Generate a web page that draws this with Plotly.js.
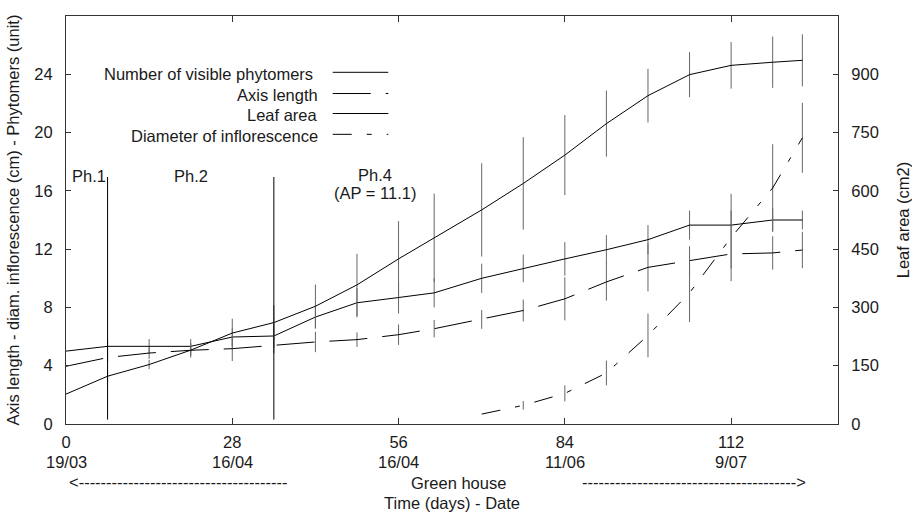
<!DOCTYPE html>
<html>
<head>
<meta charset="utf-8">
<script src="https://cdn.plot.ly/plotly-3.0.1.min.js"></script>
<style>html,body{margin:0;padding:0;background:#fff;}#chart{width:912px;height:512px;}</style>
</head>
<body>
<div id="chart"></div>
<script>
// ---- data ----
const days = [0,7,14,21,28,35,42,49,56,62,70,77,84,91,98,105,112,119,124];
const phytomers    = [5.0,5.33,5.33,5.33,5.97,6.04,7.34,8.32,8.68,9.0,10.0,10.68,11.33,11.96,12.65,13.65,13.65,14.0,14.0];
const phytomersErr = [0,0.5,0.5,0.5,0.6,0.8,0.8,1.0,1.1,1.0,1.0,0.95,1.15,1.0,1.0,1.0,1.0,0.8,0.65];
const axisLength    = [3.96,4.56,4.87,5.06,5.17,5.4,5.63,5.79,6.13,6.54,7.18,7.79,8.59,9.75,10.75,11.2,11.67,11.74,11.94];
const axisLengthErr = [0,0.3,0.4,0.5,0.85,0.55,0.7,0.5,0.7,0.6,0.65,0.75,1.48,1.28,1.65,1.0,1.0,1.15,1.25];
const leafArea    = [77,123,153,190,234,261,303,358,425,479,551,619,692,773,845,899,923,931,936];
const leafAreaErr = [0,15,12,15,37,45,56,80,97,114,120,119,103,85,69,58,60,66,67];
const diamDays    = [70,77,84,91,98,105,112,119,124];
const diameter    = [0.68,1.28,2.1,3.5,6.08,9.0,12.8,16.2,19.64];
const diameterErr = [0,0.3,0.55,0.85,1.5,2.0,3.0,3.0,2.4];

const seriesNames = ["Number of visible phytomers ", "Axis length", "Leaf area", "Diameter of inflorescence"];
const seriesDash  = ["solid", "38px,15px", "solid", "19px,15px,5px,15px"];

const xTickDays  = [0,28,56,84,112];
const xTickDates = ["19/03","16/04","16/04","11/06","9/07"];
const yTickVals  = [0,4,8,12,16,20,24];
const y2TickVals = [0,150,300,450,600,750,900];

const phaseDays  = [7,35];
const phaseRange = [0.3,16.95];
const phaseLabels = [
  {text:"Ph.1", x:3.9, y:17.0},
  {text:"Ph.2", x:21.1, y:17.0},
  {text:"Ph.4", x:52.0, y:17.1},
  {text:"(AP = 11.1)", x:52.0, y:15.85}
];

// ---- styling ----
const FONT = "Liberation Sans, Arial, Helvetica, sans-serif";
const FS = 16.5;
const TXT = "#1a1a1a";
const AX = "#333";
const ERR = {type:"data", visible:true, thickness:1, width:0, color:"#666"};

function errOf(arr){ return Object.assign({}, ERR, {array: arr}); }

const traces = [
  {x: days, y: phytomers, name: seriesNames[0], mode:"lines", yaxis:"y",
   line:{color:"#000", width:1, dash:seriesDash[0]}, error_y: errOf(phytomersErr)},
  {x: days, y: axisLength, name: seriesNames[1], mode:"lines", yaxis:"y",
   line:{color:"#000", width:1, dash:seriesDash[1]}, error_y: errOf(axisLengthErr)},
  {x: days, y: leafArea, name: seriesNames[2], mode:"lines", yaxis:"y2",
   line:{color:"#000", width:1, dash:seriesDash[2]}, error_y: errOf(leafAreaErr)},
  {x: diamDays, y: diameter, name: seriesNames[3], mode:"lines", yaxis:"y",
   line:{color:"#000", width:1, dash:seriesDash[3]}, error_y: errOf(diameterErr)}
];

const shapes = [];
phaseDays.forEach(d => shapes.push({type:"line", xref:"x", yref:"y", x0:d, x1:d,
  y0:phaseRange[0], y1:phaseRange[1], line:{color:"#000", width:1}}));

// custom legend (text right-aligned, sample line to its right)
const legRowY = [0.858, 0.806, 0.757, 0.706];
const annotations = [];
seriesNames.forEach((n,i) => {
  annotations.push({xref:"paper", yref:"paper", x:0.329, y:legRowY[i], text:n, showarrow:false,
    xanchor:"right", yanchor:"middle", font:{family:FONT, size:FS, color:TXT}});
  shapes.push({type:"line", xref:"paper", yref:"paper", x0:0.3455, x1:0.4175,
    y0:legRowY[i]+0.004, y1:legRowY[i]+0.004, line:{color:"#000", width:1, dash:seriesDash[i]}});
});

phaseLabels.forEach(p => annotations.push({xref:"x", yref:"y", x:p.x, y:p.y, text:p.text,
  showarrow:false, xanchor:"center", yanchor:"middle", font:{family:FONT, size:FS, color:TXT}}));

xTickDays.forEach((d,i) => annotations.push({xref:"x", yref:"paper", x:d, y:-0.0925, text:xTickDates[i],
  showarrow:false, xanchor:"center", yanchor:"middle", font:{family:FONT, size:FS, color:TXT}}));

annotations.push({xref:"paper", yref:"paper", x:0.001, y:-0.142, xanchor:"left", yanchor:"middle",
  text:"<" + "-".repeat(38), showarrow:false, font:{family:FONT, size:FS, color:TXT}});
annotations.push({xref:"paper", yref:"paper", x:0.9605, y:-0.142, xanchor:"right", yanchor:"middle",
  text:"-".repeat(39) + ">", showarrow:false, font:{family:FONT, size:FS, color:TXT}});
annotations.push({xref:"paper", yref:"paper", x:0.508, y:-0.145, xanchor:"center", yanchor:"middle",
  text:"Green house", showarrow:false, font:{family:FONT, size:FS, color:TXT}});

const layout = {
  width: 912, height: 512,
  margin: {l:66, r:74, t:16, b:88, pad:0},
  paper_bgcolor:"#fff", plot_bgcolor:"#fff",
  showlegend:false,
  font:{family:FONT, size:FS, color:TXT},
  xaxis:{range:[0,130], tickvals:xTickDays, ticktext:xTickDays.map(String),
    ticks:"inside", ticklen:6, tickcolor:AX, showline:true, linecolor:AX, linewidth:1,
    mirror:"ticks", showgrid:false, zeroline:false, ticklabelstandoff:3,
    title:{text:"Time (days) - Date", font:{family:FONT, size:FS, color:TXT}, standoff:50}},
  yaxis:{range:[0,28], tickvals:yTickVals, ticks:"inside", ticklen:5, tickcolor:AX,
    showline:true, linecolor:AX, linewidth:1, showgrid:false, zeroline:false, ticklabelstandoff:9,
    title:{text:"Axis length - diam. inflorescence (cm) - Phytomers (unit)", font:{family:FONT, size:FS, color:TXT}, standoff:10}},
  yaxis2:{range:[0,1050], tickvals:y2TickVals, overlaying:"y", side:"right", ticks:"inside", ticklen:5,
    tickcolor:AX, showline:true, linecolor:AX, linewidth:1, showgrid:false, zeroline:false, ticklabelstandoff:9,
    title:{text:"Leaf area (cm2)", font:{family:FONT, size:FS, color:TXT}, standoff:20}},
  shapes: shapes,
  annotations: annotations
};

Plotly.newPlot("chart", traces, layout, {displayModeBar:false, staticPlot:true});
</script>
</body>
</html>
